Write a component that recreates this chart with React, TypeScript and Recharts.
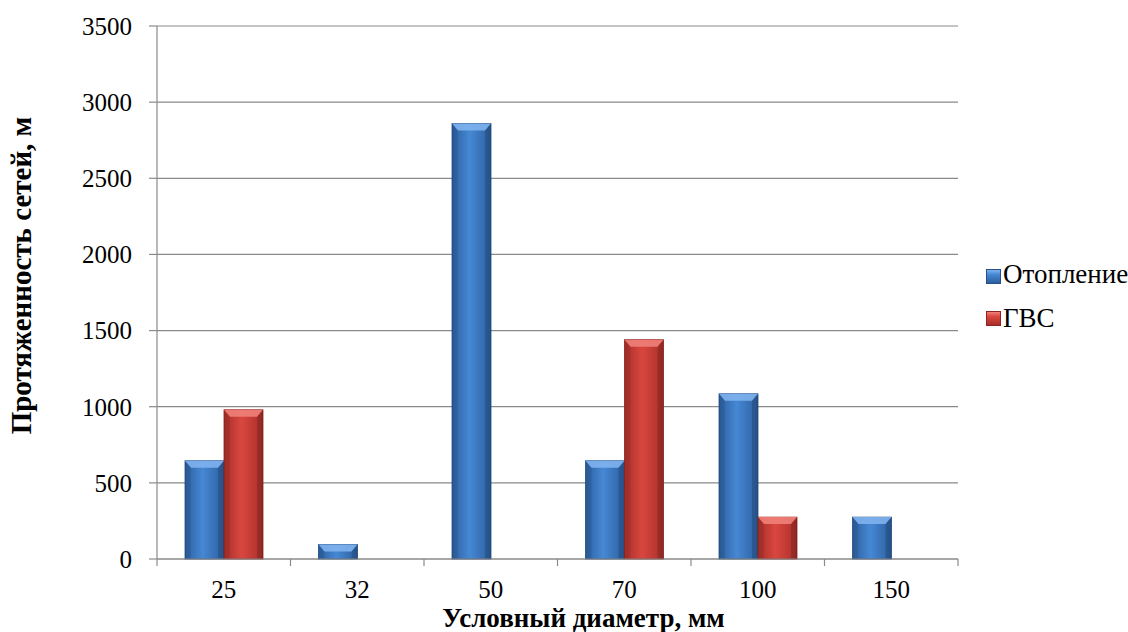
import React from 'react';
import { BarChart, Bar, XAxis, YAxis, CartesianGrid } from 'recharts';

const categories = ['25', '32', '50', '70', '100', '150'];
const heatingValues = [645, 95, 2860, 645, 1085, 275];
const hotWaterValues = [980, null, null, 1440, 275, null];
const seriesNames = ['Отопление', 'ГВС'];
const yTicks = [0, 500, 1000, 1500, 2000, 2500, 3000, 3500];
const xTitle = 'Условный диаметр, мм';
const yTitle = 'Протяженность сетей, м';

const FONT = '"Liberation Serif", "Times New Roman", serif';
const GRID = '#8a8a8a';

const data = categories.map((c, i) => ({
  cat: c,
  heating: heatingValues[i],
  hotWater: hotWaterValues[i],
}));

const blue = { id: 'gBlue', edge: '#254f86', dark: '#2c5f9f', mid: '#4688d4', top: '#7fb2ee' };
const red = { id: 'gRed', edge: '#8e2420', dark: '#a92f2a', mid: '#d9473f', top: '#f08079' };

const makeShape = (pal: any) => (props: any) => {
  const { x, y, width, height } = props;
  if (height == null || height <= 0) return <g />;
  const b = Math.min(7, height / 2);
  const s = 6;
  return (
    <g>
      <rect x={x} y={y} width={width} height={height} fill={`url(#${pal.id})`} stroke={pal.edge} strokeWidth={0.8} />
      <polygon
        points={`${x},${y} ${x + width},${y} ${x + width - s},${y + b} ${x + s},${y + b}`}
        fill={pal.top}
        opacity={0.9}
      />
      <polygon
        points={`${x},${y} ${x + s},${y + b} ${x + s},${y + height} ${x},${y + height}`}
        fill="#000"
        opacity={0.08}
      />
      <polygon
        points={`${x + width},${y} ${x + width - s},${y + b} ${x + width - s},${y + height} ${x + width},${y + height}`}
        fill="#000"
        opacity={0.15}
      />
    </g>
  );
};

const XTick = (props: any) => {
  const { x, y, payload, index, visibleTicksCount, width } = props;
  const count = visibleTicksCount || categories.length;
  const half = payload && payload.offset ? payload.offset : (width || 0) / (2 * count);
  return (
    <g>
      <line x1={x - half} y1={y} x2={x - half} y2={y + 7} stroke={GRID} strokeWidth={1.2} />
      {index === count - 1 && (
        <line x1={x + half} y1={y} x2={x + half} y2={y + 7} stroke={GRID} strokeWidth={1.2} />
      )}
      <text x={x} y={y + 21} dy="0.71em" textAnchor="middle" fill="#000" fontSize={25} fontFamily={FONT}>
        {payload.value}
      </text>
    </g>
  );
};

const YTitle = (props: any) => {
  const vb = props.viewBox || { x: 0, y: 0, width: 0, height: 0 };
  const cx = vb.x + 21;
  const cy = vb.y + vb.height / 2 - 17;
  return (
    <text
      x={cx}
      y={cy}
      transform={`rotate(-90, ${cx}, ${cy})`}
      textAnchor="middle"
      dominantBaseline="central"
      fontFamily={FONT}
      fontWeight="bold"
      fontSize={29}
      fill="#000"
    >
      {yTitle}
    </text>
  );
};

const XTitle = (props: any) => {
  const vb = props.viewBox || { x: 0, y: 0, width: 0, height: 0 };
  return (
    <text
      x={vb.x + vb.width / 2 + 26}
      y={vb.y + 68}
      textAnchor="middle"
      fontFamily={FONT}
      fontWeight="bold"
      fontSize={27}
      fill="#000"
    >
      {xTitle}
    </text>
  );
};

const legendColors = [
  'linear-gradient(180deg, #7fb2ee 0%, #4688d4 35%, #2c5f9f 100%)',
  'linear-gradient(180deg, #f08079 0%, #d9473f 35%, #a92f2a 100%)',
];
const legendTops = [261, 305];
const squareTops = [269, 311];

export default function App() {
  return (
    <div style={{ position: 'absolute', left: 0, top: 0, width: 1128, height: 632, background: '#fff' }}>
      <BarChart
        width={1128}
        height={632}
        data={data}
        margin={{ top: 26, right: 170, left: 0, bottom: 0 }}
        barGap={0}
        barSize={39}
      >
        <defs>
          <linearGradient id="gBlue" x1="0" y1="0" x2="1" y2="0">
            <stop offset="0%" stopColor={blue.dark} />
            <stop offset="45%" stopColor={blue.mid} />
            <stop offset="100%" stopColor={blue.dark} />
          </linearGradient>
          <linearGradient id="gRed" x1="0" y1="0" x2="1" y2="0">
            <stop offset="0%" stopColor={red.dark} />
            <stop offset="45%" stopColor={red.mid} />
            <stop offset="100%" stopColor={red.dark} />
          </linearGradient>
        </defs>
        <CartesianGrid vertical={false} stroke={GRID} strokeWidth={1.2} />
        <XAxis
          dataKey="cat"
          height={73}
          tickLine={false}
          tickSize={0}
          tickMargin={0}
          axisLine={{ stroke: GRID, strokeWidth: 1.2 }}
          tick={<XTick />}
          interval={0}
          label={{ content: XTitle }}
        />
        <YAxis
          width={157}
          domain={[0, 3500]}
          ticks={yTicks}
          interval={0}
          tickSize={8}
          tickMargin={17}
          axisLine={{ stroke: GRID, strokeWidth: 1.2 }}
          tickLine={{ stroke: GRID, strokeWidth: 1.2 }}
          tick={{ fill: '#000', fontSize: 25, fontFamily: FONT }}
          label={{ content: YTitle }}
        />
        <Bar dataKey="heating" name={seriesNames[0]} fill={blue.mid} shape={makeShape(blue)} isAnimationActive={false} />
        <Bar dataKey="hotWater" name={seriesNames[1]} fill={red.mid} shape={makeShape(red)} isAnimationActive={false} />
      </BarChart>
      {seriesNames.map((n, i) => (
        <React.Fragment key={n}>
          <div
            style={{
              position: 'absolute',
              left: 986,
              top: squareTops[i],
              width: 15,
              height: 15,
              background: legendColors[i],
              boxSizing: 'border-box',
              border: `1px solid ${i === 0 ? blue.edge : red.edge}`,
            }}
          />
          <div
            style={{
              position: 'absolute',
              left: 1003,
              top: legendTops[i],
              fontFamily: FONT,
              fontSize: 27,
              lineHeight: '27px',
              color: '#000',
              whiteSpace: 'nowrap',
            }}
          >
            {n}
          </div>
        </React.Fragment>
      ))}
    </div>
  );
}
